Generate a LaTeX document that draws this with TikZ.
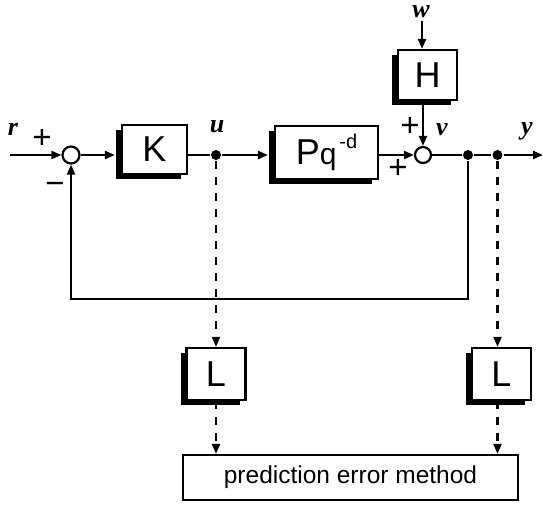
\documentclass[tikz,border=0pt]{standalone}
\usepackage{fontspec}
\setmainfont{Liberation Sans}
\newfontfamily\lblfont{Liberation Serif}
\usetikzlibrary{arrows.meta,shadows,calc}
\begin{document}
\begin{tikzpicture}[x=1pt,y=-1pt,
  line width=2.2pt,
  blk/.style={draw, fill=white, line width=2.2pt, inner sep=0pt,
    font=\fontsize{36}{36}\selectfont,
    drop shadow={shadow xshift=-6pt, shadow yshift=-5pt, fill=black, opacity=1}},
  sumc/.style={circle, draw, fill=white, line width=2.2pt, minimum size=17pt, inner sep=0pt},
  dotn/.style={circle, fill=black, minimum size=10pt, inner sep=0pt},
  arr/.style={-{Triangle[length=10pt,width=8pt]}},
  darr/.style={-{Triangle[length=10pt,width=8pt]}, dash pattern=on 8pt off 8pt},
  lbl/.style={font=\lblfont\bfseries\itshape\fontsize{26}{26}\selectfont, inner sep=0pt},
  sgn/.style={font=\fontsize{33}{33}\selectfont, inner sep=0pt}
]
\useasboundingbox (0,0) rectangle (543,506);

% nodes
\node[sumc] (s1) at (71,155) {};
\node[blk, minimum width=65pt, minimum height=49pt] (K) at (154.5,149.5) {K};
\node[dotn] (u) at (216,155) {};
\node[blk, minimum width=103pt, minimum height=53pt] (P) at (326.5,152.5)
  {P{\fontsize{30}{30}\selectfont q}\hspace{3pt}\raisebox{16pt}{\fontsize{20}{20}\selectfont -d}};
\node[blk, minimum width=59pt, minimum height=50pt] (H) at (427.5,75) {H};
\node[sumc, minimum size=16pt] (s2) at (423,155) {};
\node[dotn] (d1) at (468,155) {};
\node[dotn] (d2) at (497.5,155) {};
\node[blk, minimum width=59pt, minimum height=52pt] (L1) at (216,374) {L};
\node[blk, minimum width=59pt, minimum height=52pt] (L2) at (501.5,374) {L};
\node[draw, fill=white, line width=2.2pt, minimum width=335pt, minimum height=45pt,
  inner sep=0pt, font=\fontsize{24.5}{24.5}\selectfont] (PEM) at (350.5,477.5) {prediction error method};

\coordinate (in) at (10,155);
\coordinate (out) at (543,155);
\coordinate (win) at (422,21);
\coordinate (fb) at (71,299);

% labels
\node[lbl] (rl) at (13,129) {r};
\node[lbl] (ul) at (217,127) {u};
\node[lbl] (wl) at (421,12) {w};
\node[lbl] (vl) at (442,130) {v};
\node[lbl] (yl) at (527,131) {y};
\node[sgn] (p1) at (42,139) {+};
\node[sgn] (m1) at (55,188) {−};
\node[sgn] (p2) at (410,127) {+};
\node[sgn] (p3) at (398,169) {+};

% connectors
\draw[arr] (in) -- (s1);
\draw[arr] (s1) -- ($(K.west |- s1)+(-6,0)$);
\draw (K.east |- u) -- (u);
\draw[arr] (u) -- ($(P.west |- u)+(-6,0)$);
\draw[arr] (P.east |- s2) -- (s2);
\draw[arr] (win) -- (win |- H.north);
\draw[arr] (s2 |- H.south) -- (s2);
\draw (s2) -- (d1) -- (d2);
\draw[arr] (d2) -- (out);
\draw[arr] (d1) -- (d1 |- fb) -- (fb) -- (s1);
\draw[darr] (u) -- (L1.north);
\draw[darr] (d2) -- (d2 |- L2.north);
\draw[darr] (L1.south) -- (L1.south |- PEM.north);
\draw[darr] (d2 |- L2.south) -- (d2 |- PEM.north);
\end{tikzpicture}
\end{document}
